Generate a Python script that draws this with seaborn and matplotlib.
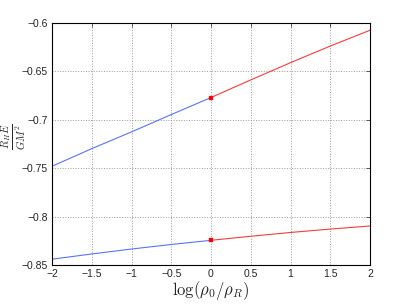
import numpy as np
import pandas as pd
import seaborn as sns
from matplotlib import pyplot as plt

# values
x_left = [-2.0, -1.5, -1.0, -0.5, 0.0]
x_right = [0.0, 0.5, 1.0, 1.5, 2.0]
upper_left = [-0.748, -0.7298, -0.7125, -0.6946, -0.677]
upper_right = [-0.677, -0.6588, -0.641, -0.6238, -0.6075]
lower_left = [-0.844, -0.8386, -0.8335, -0.8288, -0.8245]
lower_right = [-0.8245, -0.8203, -0.8164, -0.8129, -0.8097]
join_x = [0.0, 0.0]
join_y = [-0.677, -0.8245]
x_ticks = [-2, -1.5, -1, -0.5, 0, 0.5, 1, 1.5, 2]
y_ticks = [-0.85, -0.8, -0.75, -0.7, -0.65, -0.6]

sns.set_style("white")
plt.rcParams['font.family'] = ['Liberation Sans', 'DejaVu Sans']
plt.rcParams['mathtext.fontset'] = 'cm'

fig = plt.figure(figsize=(4.09, 3.07), dpi=100)
ax = fig.add_axes([52 / 409, 1 - 265 / 307, 318 / 409, 242 / 307])

blue = '#5b73f5'
red = '#f43c3c'
for xs, ys, c in [(x_left, upper_left, blue), (x_right, upper_right, red),
                  (x_left, lower_left, blue), (x_right, lower_right, red)]:
    df = pd.DataFrame({'x': xs, 'y': ys})
    sns.lineplot(data=df, x='x', y='y', color=c, linewidth=0.8, ax=ax)

sns.scatterplot(x=join_x, y=join_y, color='red', marker='s', s=8,
                edgecolor='red', ax=ax, zorder=5)

ax.set_xlim(-2, 2)
ax.set_ylim(-0.85, -0.6)
ax.set_xticks(x_ticks)
ax.set_xticklabels(['\u22122', '\u22121.5', '\u22121', '\u22120.5', '0', '0.5', '1', '1.5', '2'])
ax.set_yticks(y_ticks)
ax.set_yticklabels(['\u22120.85', '\u22120.8', '\u22120.75', '\u22120.7', '\u22120.65', '\u22120.6'])
ax.tick_params(direction='in', length=3, labelsize=7.5, width=0.5,
               top=True, right=True, pad=3)
ax.grid(True, linestyle=':', color='#999999', linewidth=0.7)
for s in ax.spines.values():
    s.set_linewidth(0.8)
    s.set_color('black')

ax.set_xlabel(r'$\log(\rho_0/\rho_R)$', fontsize=12, labelpad=0)
ylab = ax.set_ylabel(r'$\frac{R_H E}{GM^2}$', fontsize=11)
ylab.set_rotation_mode('default')
ylab.set_ha('center')
ylab.set_va('center')
ax.yaxis.set_label_coords(-0.119, 0.529)

fig.savefig('out.png', dpi=100)
